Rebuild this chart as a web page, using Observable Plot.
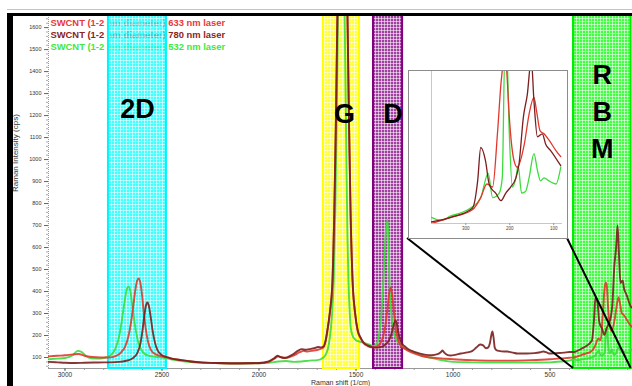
<!DOCTYPE html>
<html><head><meta charset="utf-8">
<script src="https://cdn.jsdelivr.net/npm/d3@7"></script>
<script src="https://cdn.jsdelivr.net/npm/@observablehq/plot@0.6"></script>
<style>
html,body{margin:0;padding:0;background:#fff;}
#wrap{position:relative;width:632px;height:386px;overflow:hidden;font-family:"Liberation Sans",Arial,sans-serif;}
#wrap > svg{position:absolute;left:0;top:0;max-width:none;}
</style></head><body>
<div id="wrap"></div>
<script>
const FONT = "'Liberation Sans', Arial, Helvetica, sans-serif";

// ---- axes ----
const xDomain = [3085, 75];
const yDomain = [50, 1655];
const xTicks = [3000, 2500, 2000, 1500, 1000, 500];
const yTicks = [100, 200, 300, 400, 500, 600, 700, 800, 900, 1000, 1100, 1200, 1300, 1400, 1500, 1600];
const xLabel = "Raman shift (1/cm)";
const yLabel = "Raman Intensity (cps)";

// ---- series ----
const seriesLabels = [
  "SWCNT (1-2 nm diameter) 633 nm laser",
  "SWCNT (1-2 nm diameter) 780 nm laser",
  "SWCNT (1-2 nm diameter) 532 nm laser"
];
const legendColors = ["#e8383a", "#8b2323", "#40e840"];
const lineColors = ["#e0382c", "#7a1f1f", "#3ddc3d"];

const x633 = [3085,3040,3000,2960,2930,2900,2860,2820,2780,2750,2730,2710,2690,2672,2658,2647,2637,2628,2620,2612,2603,2594,2584,2572,2558,2540,2520,2500,2480,2450,2400,2350,2300,2200,2100,2000,1950,1920,1900,1880,1860,1820,1790,1770,1750,1730,1700,1680,
  1668,1655,1647,1635,1621,1612,1604,1596,1588,1579,1570,1561,1552,1544,1536,1528,1518,1505,1492,1475,1461,1440,1420,
  1405,1390,1375,1360,1348,1338,1330,1322,1314,1305,1295,1283,1270,1255,1240,1220,1190,1160,1120,1060,1000,900,800,700,600,500,440,400,
  378,334,285,266,252,239,228,220,214,208,201,190,183,167,156,147,139,130,122,111,95,84,75];
const y633 = [105,108,110,114,116,108,102,100,100,103,110,125,150,200,270,340,410,450,460,442,385,305,232,172,136,118,110,105,102,95,88,82,78,74,73,74,80,95,105,100,98,110,124,130,127,130,134,140,
  145,180,223,300,450,750,1150,1650,2100,2400,2500,2400,2100,1650,1150,750,450,300,223,185,165,152,146,
  146,150,165,195,250,320,385,418,390,310,230,180,155,143,135,126,115,107,100,96,92,88,86,86,88,92,96,99,
  100,113,130,156,186,179,295,404,441,430,331,235,222,272,338,374,344,301,295,282,258,245,238];

const x780 = [3085,3040,3000,2950,2900,2850,2800,2760,2720,2690,2660,2640,2625,2612,2601,2591,2583,2575,2567,2558,2548,2537,2524,2510,2495,2475,2450,2400,2350,2300,2200,2100,2000,1950,1920,1905,1890,1870,1830,1800,1780,1760,1740,1715,1695,1680,
  1668,1655,1647,1635,1621,1612,1604,1596,1588,1579,1570,1561,1552,1544,1536,1528,1518,1505,1492,1475,1461,1440,1420,
  1405,1390,1370,1350,1335,1322,1312,1304,1297,1290,1282,1272,1260,1245,1225,1200,1170,1140,1110,1080,1062,1054,1045,1030,1013,990,960,926,900,880,860,845,830,820,810,803,797,791,785,775,750,720,690,669,620,580,550,534,515,500,470,430,400,
  378,334,285,273,266,255,247,239,232,220,209,198,186,179,169,160,152,145,137,126,118,107,84,75];
const y780 = [80,78,76,75,76,77,78,78,80,84,92,105,125,160,220,290,335,350,332,282,220,170,135,118,108,102,95,88,82,78,75,74,75,82,98,108,102,98,112,130,138,135,138,142,148,146,
  150,185,228,305,455,760,1160,1660,2100,2400,2500,2400,2100,1660,1160,760,455,305,226,188,168,155,148,
  146,145,148,158,172,195,225,255,268,255,215,180,160,148,135,126,118,112,110,115,125,132,122,112,109,112,118,123,130,145,159,155,142,145,165,200,218,190,145,132,128,127,122,118,118,120,124,127,122,118,120,122,125,
  125,142,175,276,375,349,265,243,231,203,231,254,287,338,511,595,700,573,439,450,411,388,332,325];

const x532 = [3085,3040,3000,2960,2935,2915,2890,2860,2820,2790,2760,2740,2720,2705,2692,2682,2673,2664,2655,2645,2635,2622,2605,2590,2570,2545,2500,2470,2430,2380,2300,2200,2100,2000,1950,1900,1860,1820,1780,1740,1700,
  1668,1655,1645,1635,1625,1615,1607,1600,1593,1586,1578,1570,1562,1555,1549,1544,1539,1532,1527,1518,1505,1490,1470,1450,1430,
  1410,1395,1384,1372,1359,1348,1338,1333,1328,1318,1307,1297,1280,1260,1245,1220,1190,1160,1120,1080,1040,1000,900,800,700,600,500,440,400,
  378,357,334,311,285,266,249,239,224,217,211,207,201,194,186,181,173,164,156,145,137,130,122,111,95,84,75];
const y532 = [92,95,98,110,130,126,106,96,95,100,114,140,200,280,360,408,423,405,350,282,222,168,133,117,109,104,100,95,88,82,76,74,73,74,76,82,84,80,82,86,88,
  100,115,140,190,280,450,750,1150,1650,2100,2400,2300,1900,1400,950,650,450,300,236,200,182,174,170,164,158,
  152,158,190,270,450,650,725,650,450,300,220,190,165,150,140,130,120,108,100,92,85,80,78,77,77,77,78,82,86,
  91,88,92,95,100,109,131,109,113,127,232,232,168,119,127,138,113,114,127,149,134,124,127,124,121,137,130];

// ---- highlighted bands ----
const regionNames = ["2D", "G", "D", "R\nB\nM"];
const regionStart = [2776, 1668, 1410, 379];
const regionEnd = [2477, 1482, 1260, 82];
const regionStroke = ["#00f4ff", "#ffff00", "#800080", "#00ee00"];
const regionFill = ["#00ffff", "#ffff00", "#800080", "#00ff00"];

// ---- inset (RBM zoom) ----
const insetDomainX = [378, 80];
const insetTicks = [300, 200, 100];
const ix633 = [378,334,285,266,252,239,228,220,217,213,207,201,190,183,167,156,145,139,131,122,111,95,84];
const iy633 = [0,4,9,17,26,24,59,92,101,120,101,70,41,37,52,72,83,74,61,59,55,48,44];
const ix780 = [378,334,285,273,266,255,247,239,232,220,209,198,186,179,169,160,151,145,137,126,118,107,84];
const iy780 = [1,4,10,28,50,41,26,22,20,15,20,24,30,39,70,85,108,81,57,59,52,48,38];
const ix532 = [378,357,334,311,285,266,249,239,224,217,211,207,201,194,186,181,173,164,156,145,137,130,122,111,95,84];
const iy532 = [4,2,5,7,11,17,33,17,20,30,115,115,59,24,30,38,20,21,30,46,35,28,30,28,26,37];

// ---------------------------------------------------------------
const pts = (xs, ys) => xs.map((x, i) => ({x, y: ys[i]}));
const wrap = document.getElementById("wrap");

// patterns for the bands
const defsSvg = d3.select(wrap).append("svg").attr("width", 0).attr("height", 0);
const defs = defsSvg.append("defs");
regionFill.forEach((c, i) => {
  const p = defs.append("pattern").attr("id", "pat" + i)
    .attr("width", 3).attr("height", 3).attr("patternUnits", "userSpaceOnUse");
  p.append("rect").attr("width", 3).attr("height", 3).attr("fill", c);
  p.append("path").attr("d", "M0,0.5H3M0.5,0V3").attr("stroke", "#fff")
    .attr("stroke-width", 1).attr("stroke-opacity", 0.55);
});

const hasAxis = typeof Plot.axisX === "function";
const seriesX = [x633, x780, x532];
const seriesY = [y633, y780, y532];
const drawOrder = [2, 0, 1];

const marks = [];
seriesLabels.forEach((t, i) => marks.push(Plot.text([t], {
  frameAnchor: "top-left", dx: 2, dy: 10 + 12 * i, lineAnchor: "bottom", textAnchor: "start",
  fontSize: 9.4, fontWeight: "bold", fill: legendColors[i], fontFamily: FONT
})));
marks.push(Plot.text([yLabel], {frameAnchor: "left", dx: -33, rotate: -90, fontSize: 8, fill: "#333", fontFamily: FONT}));
marks.push(Plot.text([xLabel], {frameAnchor: "bottom", dy: 12, lineAnchor: "top", fontSize: 7, fill: "#333", fontFamily: FONT}));
marks.push(Plot.ruleX([xDomain[0]], {stroke: "#999", strokeDasharray: "1,1"}));
marks.push(Plot.ruleY([yDomain[0]], {stroke: "#999"}));
if (hasAxis) {
  marks.push(Plot.axisX({ticks: d3.range(100, 3100, 100), tickSize: 2, tickFormat: () => "", stroke: "#999", label: null}));
  marks.push(Plot.axisX({ticks: xTicks, tickSize: 3, tickPadding: 1, fontSize: 6.5, fill: "#333", stroke: "#666", label: null, tickFormat: d => String(d)}));
  marks.push(Plot.axisY({ticks: d3.range(60, 1660, 20), tickSize: 2, tickFormat: () => "", stroke: "#aaa", label: null}));
  marks.push(Plot.axisY({ticks: yTicks, tickSize: 4, tickPadding: 3, fontSize: 5.5, fill: "#333", stroke: "#666", label: null, tickFormat: d => String(d)}));
}
// bands (over the legend text, under the spectra)
regionNames.forEach((n, i) => marks.push(Plot.rect([n], {
  x1: () => regionStart[i], x2: () => regionEnd[i],
  fill: `url(#pat${i})`, fillOpacity: 0.75, stroke: regionStroke[i], strokeWidth: 2
})));
drawOrder.forEach(i => marks.push(Plot.line(pts(seriesX[i], seriesY[i]), {
  x: "x", y: "y", stroke: lineColors[i], strokeWidth: 1.9, strokeOpacity: 0.9, curve: "monotone-x", clip: true
})));
const labelDx = [0, 3, 5, 0];
const labelDy = [102, 107, 107, 142];
regionNames.forEach((n, i) => marks.push(Plot.text([n], {
  x: () => (regionStart[i] + regionEnd[i]) / 2, frameAnchor: "top", dx: labelDx[i], dy: labelDy[i],
  lineAnchor: "bottom", lineHeight: 1.37, fontSize: 27, fontWeight: "bold", fill: "#000", fontFamily: FONT
})));

const main = Plot.plot({
  width: 632, height: 386,
  marginLeft: 48, marginRight: 0, marginTop: 15, marginBottom: 18,
  x: hasAxis ? {domain: xDomain, axis: null} : {domain: xDomain, ticks: xTicks, tickSize: 3, label: null, tickFormat: d => String(d)},
  y: hasAxis ? {domain: yDomain, axis: null} : {domain: yDomain, ticks: yTicks, tickSize: 4, label: null, tickFormat: d => String(d)},
  style: {background: "transparent", fontFamily: FONT, fontSize: "6px", overflow: "visible"},
  marks
});
wrap.appendChild(main);

// connector lines from the inset to the RBM band
const insetLeft = 408, insetTop = 70, insetW = 158, insetH = 167;
const sx = main.scale("x"), sy = main.scale("y");
const conn = d3.select(wrap).append("svg").attr("width", 632).attr("height", 386)
  .style("position", "absolute").style("left", 0).style("top", 0);
const bottomY = sy.apply(yDomain[0]);
const iBottom = insetTop + insetH + 1;
conn.append("line").attr("x1", insetLeft - 1).attr("y1", iBottom)
  .attr("x2", sx.apply(regionStart[3])).attr("y2", bottomY).attr("stroke", "#000").attr("stroke-width", 2);
conn.append("line").attr("x1", insetLeft + insetW + 1).attr("y1", iBottom)
  .attr("x2", sx.apply(regionEnd[3])).attr("y2", bottomY).attr("stroke", "#000").attr("stroke-width", 2);

// inset
const insetDiv = d3.select(wrap).append("div")
  .style("position", "absolute").style("left", insetLeft + "px").style("top", insetTop + "px")
  .style("width", insetW + "px").style("height", insetH + "px")
  .style("border", "1px solid #8c8c8c").style("background", "#fff");
const insetSeriesX = [ix633, ix780, ix532];
const insetSeriesY = [iy633, iy780, iy532];
const insetMarks = [
  Plot.ruleX([insetDomainX[0]], {stroke: "#c8c8c8"}),
  Plot.ruleY([0], {stroke: "#c8c8c8"})
];
if (hasAxis) insetMarks.push(Plot.axisX({ticks: insetTicks, tickSize: 2, tickPadding: 1, fontSize: 4.5, fill: "#444", stroke: "#999", label: null, tickFormat: d => String(d)}));
drawOrder.forEach(i => insetMarks.push(Plot.line(pts(insetSeriesX[i], insetSeriesY[i]), {
  x: "x", y: "y", stroke: lineColors[i], strokeWidth: 1.3, curve: "monotone-x", clip: true
})));
const inset = Plot.plot({
  width: insetW, height: insetH, marginLeft: 22, marginRight: 5, marginTop: 0, marginBottom: 15,
  x: hasAxis ? {domain: insetDomainX, axis: null} : {domain: insetDomainX, ticks: insetTicks, tickSize: 2, label: null},
  y: {domain: [0, 100], axis: null},
  style: {background: "#fff", fontFamily: FONT, fontSize: "4.5px"},
  marks: insetMarks
});
insetDiv.node().appendChild(inset);

// picture frame
const frame = [
  {l: 7, t: 9, w: 625, h: 1, c: "#c4c4c4"},
  {l: 7, t: 13, w: 625, h: 3, c: "#000"},
  {l: 7, t: 13, w: 6, h: 373, c: "#000"}
];
frame.forEach(f => d3.select(wrap).append("div").style("position", "absolute")
  .style("left", f.l + "px").style("top", f.t + "px").style("width", f.w + "px").style("height", f.h + "px")
  .style("background", f.c));
</script>
</body></html>
